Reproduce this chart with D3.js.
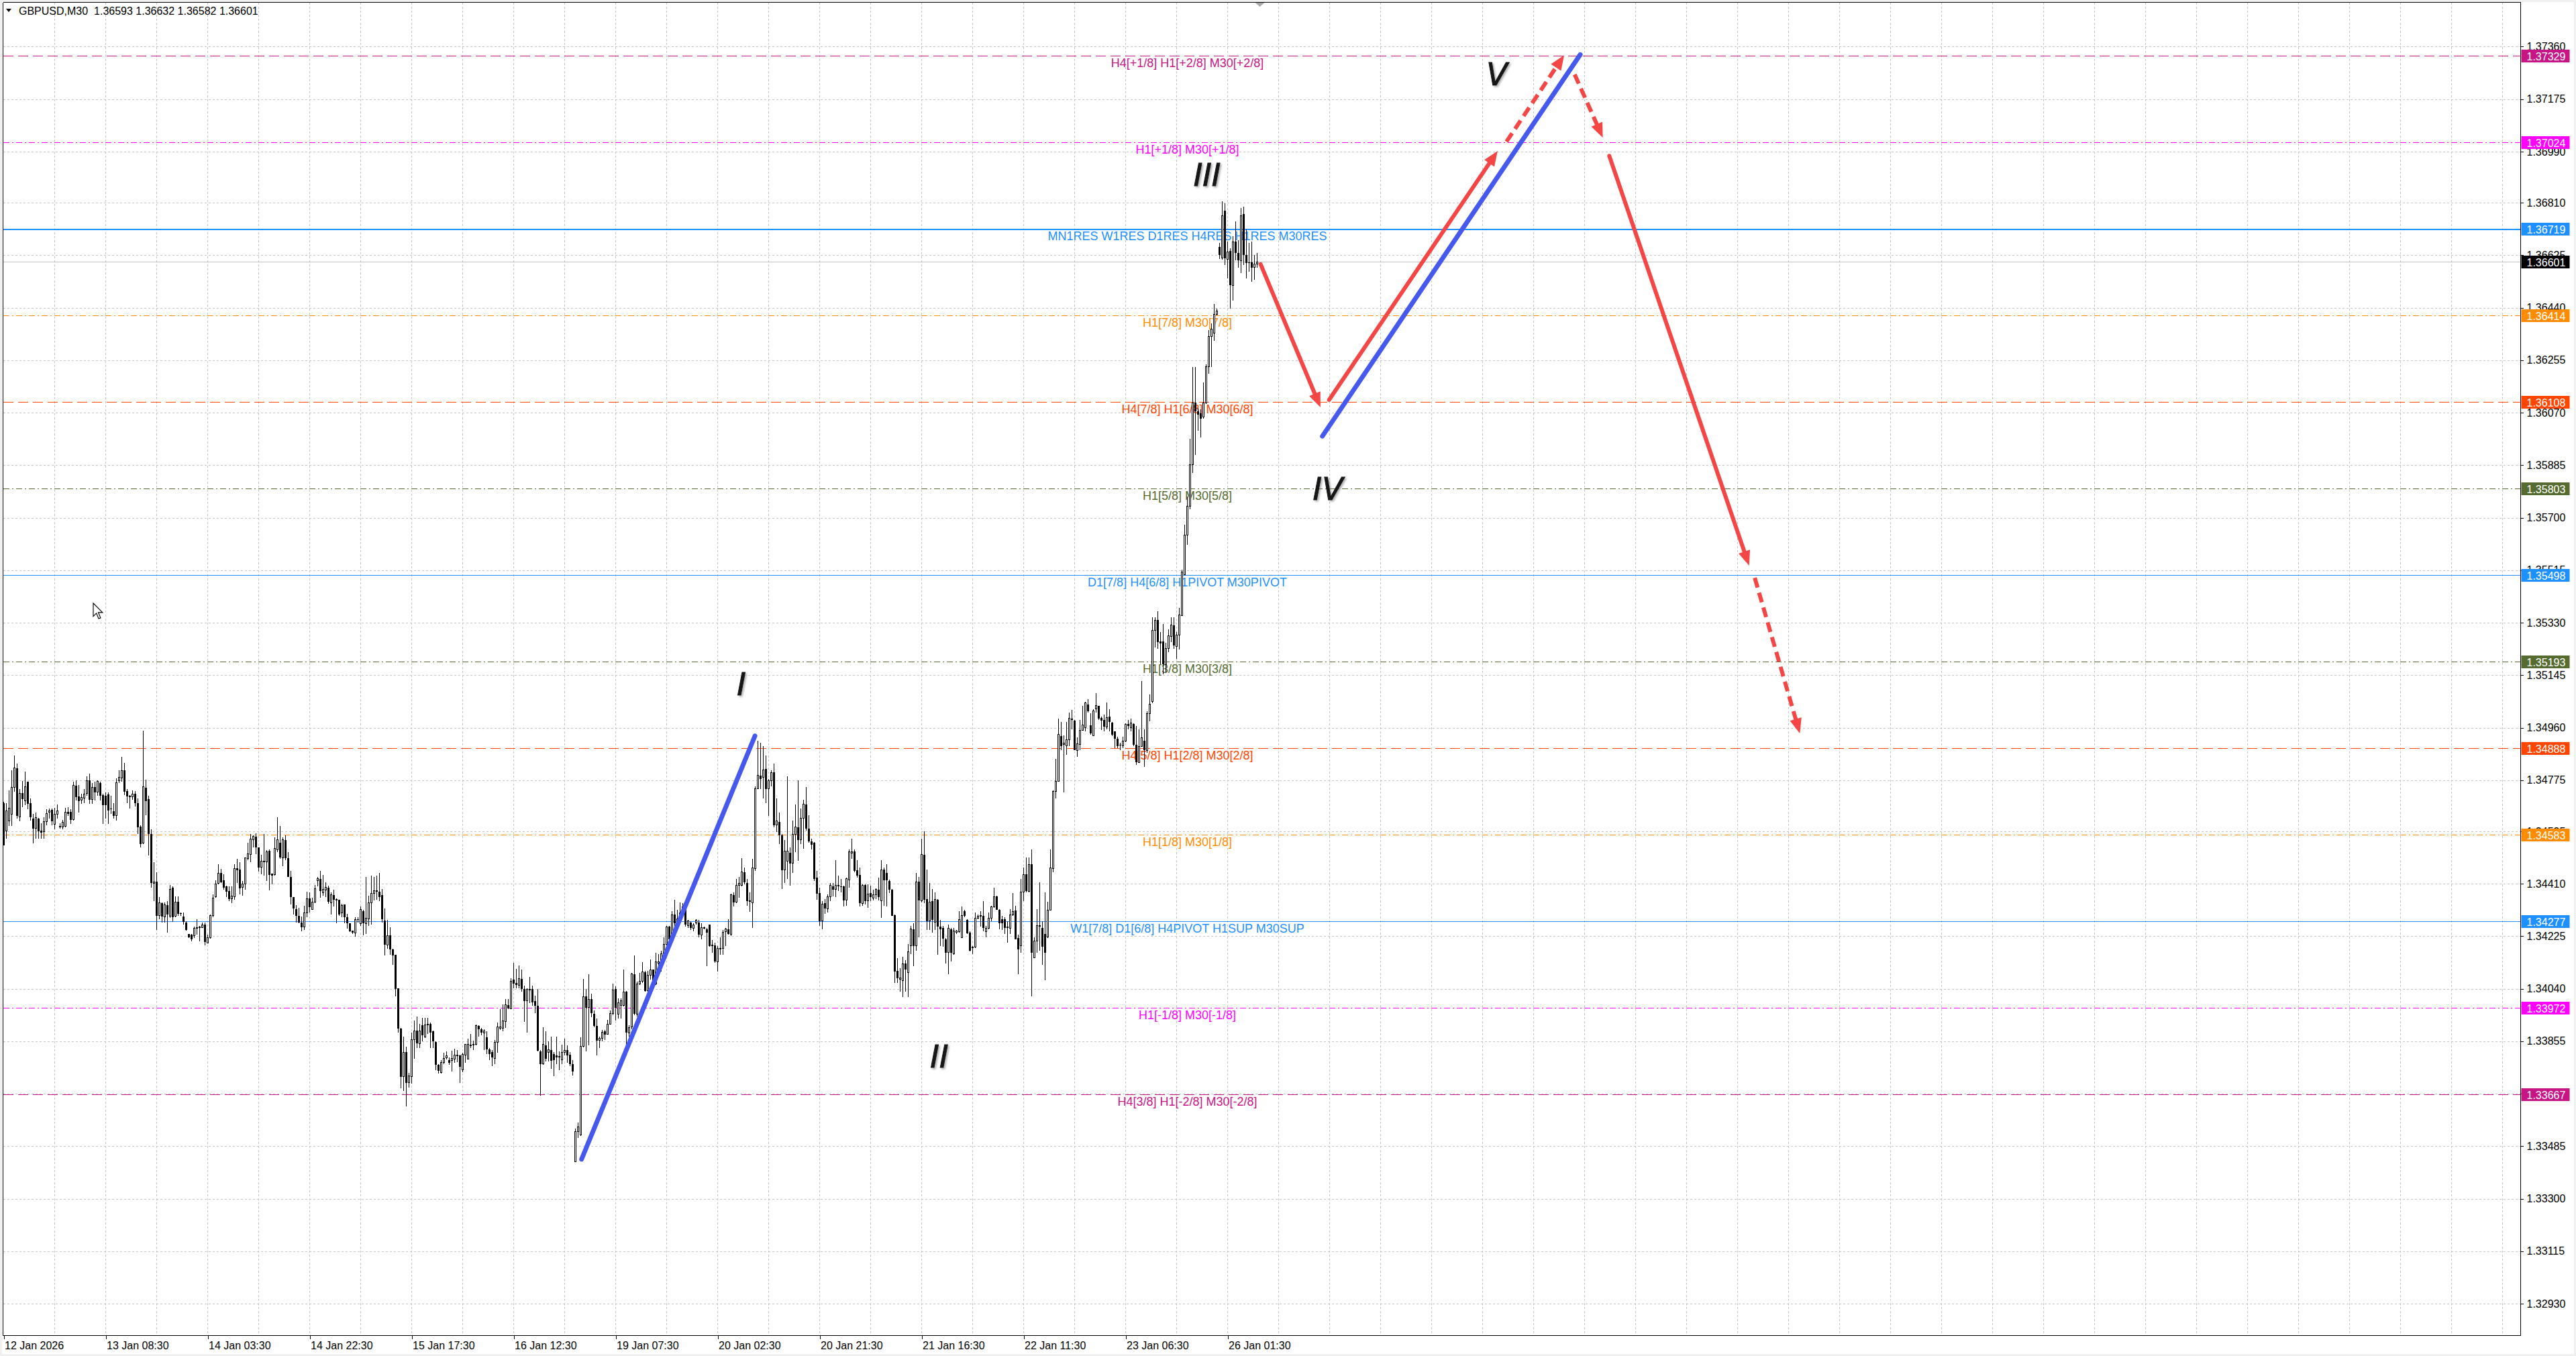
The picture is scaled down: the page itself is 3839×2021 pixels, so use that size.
<!DOCTYPE html>
<html lang="en">
<head>
<meta charset="UTF-8">
<title>GBPUSD,M30</title>
<script src="https://d3js.org/d3.v7.min.js"></script>
<style>
  body { margin: 0; background: #fff; overflow: hidden; }
  svg { display: block; font-family: 'Liberation Sans', Arial, sans-serif; }
  .grid line { stroke: #c4c4c4; stroke-width: 1; stroke-dasharray: 3,3; shape-rendering: crispEdges; }
  .axis text { font-size: 16px; fill: #000; font-family: 'Liberation Sans', Arial, sans-serif; }
  .axis line, .axis path { stroke: #000; shape-rendering: crispEdges; }
  .level-label { font-size: 18px; }
  .wave-label { font-family: 'DejaVu Sans', sans-serif; font-style: italic; font-size: 46px; fill: #151515; }
  .candle line, .candle rect { shape-rendering: crispEdges; }
</style>
</head>
<body>
<svg id="chart" width="3839" height="2021"></svg>
<script>
// ---- data ----
const symbol = "GBPUSD,M30";

const opens = [
1.34695,1.34597,1.34631,1.34656,1.34750,1.34817,1.34646,1.34729,1.34703,1.34769,
1.34695,1.34640,1.34606,1.34639,1.34597,1.34593,1.34630,1.34663,1.34670,1.34620,
1.34654,1.34614,1.34609,1.34613,1.34664,1.34663,1.34636,1.34756,1.34717,1.34705,
1.34711,1.34729,1.34774,1.34706,1.34750,1.34732,1.34766,1.34723,1.34719,1.34724,
1.34674,1.34666,1.34650,1.34774,1.34782,1.34809,1.34736,1.34719,1.34717,1.34728,
1.34695,1.34612,1.34553,1.34749,1.34709,1.34585,1.34412,1.34417,1.34297,1.34342,
1.34293,1.34335,1.34295,1.34397,1.34295,1.34346,1.34307,1.34295,1.34274,1.34232,
1.34230,1.34226,1.34254,1.34256,1.34256,1.34266,1.34200,1.34220,1.34297,1.34363,
1.34412,1.34449,1.34422,1.34400,1.34384,1.34358,1.34364,1.34464,1.34459,1.34397,
1.34410,1.34498,1.34514,1.34566,1.34576,1.34538,1.34468,1.34490,1.34486,1.34525,
1.34445,1.34442,1.34530,1.34555,1.34502,1.34565,1.34500,1.34435,1.34363,1.34321,
1.34297,1.34274,1.34258,1.34308,1.34358,1.34319,1.34345,1.34421,1.34427,1.34379,
1.34388,1.34397,1.34344,1.34371,1.34355,1.34353,1.34307,1.34336,1.34292,1.34270,
1.34244,1.34237,1.34285,1.34270,1.34314,1.34270,1.34287,1.34342,1.34377,1.34384,
1.34381,1.34369,1.34281,1.34195,1.34229,1.34178,1.34160,1.34042,1.33900,1.33731,
1.33817,1.33709,1.33730,1.33860,1.33893,1.33847,1.33911,1.33869,1.33915,1.33915,
1.33889,1.33852,1.33772,1.33744,1.33779,1.33797,1.33788,1.33788,1.33793,1.33806,
1.33804,1.33755,1.33806,1.33793,1.33843,1.33841,1.33843,1.33909,1.33898,1.33885,
1.33869,1.33826,1.33816,1.33794,1.33852,1.33900,1.33900,1.33924,1.33983,1.33970,
1.34071,1.34060,1.34053,1.34075,1.34038,1.33997,1.34036,1.34038,1.33996,1.33979,
1.33819,1.33775,1.33841,1.33816,1.33825,1.33810,1.33806,1.33799,1.33790,1.33816,
1.33823,1.33808,1.33775,1.33431,1.33536,1.33524,1.33838,1.34013,1.33974,1.34003,
1.33952,1.33909,1.33858,1.33865,1.33889,1.33880,1.33915,1.33952,1.34038,1.33950,
1.33981,1.33981,1.34029,1.33885,1.33905,1.34092,1.33951,1.34057,1.34066,1.34099,
1.34033,1.34087,1.34107,1.34057,1.34131,1.34136,1.34163,1.34197,1.34258,1.34219,
1.34301,1.34266,1.34286,1.34305,1.34321,1.34262,1.34274,1.34254,1.34271,1.34274,
1.34230,1.34256,1.34250,1.34266,1.34191,1.34193,1.34136,1.34181,1.34183,1.34242,
1.34250,1.34232,1.34371,1.34345,1.34404,1.34404,1.34451,1.34412,1.34349,1.34342,
1.34464,1.34744,1.34791,1.34786,1.34815,1.34744,1.34774,1.34803,1.34618,1.34628,
1.34581,1.34459,1.34490,1.34520,1.34483,1.34585,1.34610,1.34565,1.34640,1.34690,
1.34605,1.34560,1.34555,1.34431,1.34376,1.34278,1.34341,1.34321,1.34363,1.34402,
1.34390,1.34405,1.34402,1.34402,1.34352,1.34423,1.34518,1.34523,1.34457,1.34442,
1.34341,1.34405,1.34349,1.34376,1.34360,1.34372,1.34388,1.34349,1.34459,1.34447,
1.34420,1.34388,1.34300,1.34104,1.34074,1.34069,1.34128,1.34098,1.34191,1.34250,
1.34191,1.34418,1.34349,1.34512,1.34356,1.34278,1.34349,1.34274,1.34353,1.34258,
1.34254,1.34215,1.34167,1.34250,1.34163,1.34238,1.34242,1.34221,1.34313,1.34283,
1.34238,1.34187,1.34187,1.34289,1.34295,1.34297,1.34242,1.34254,1.34289,1.34329,
1.34366,1.34317,1.34284,1.34285,1.34258,1.34254,1.34301,1.34315,1.34218,1.34191,
1.34380,1.34443,1.34384,1.34478,1.34150,1.34207,1.34261,1.34254,1.34232,1.34222,
1.34318,1.34463,1.34736,1.34772,1.34930,1.34900,1.34896,1.34917,1.34992,1.34985,
1.34880,1.34902,1.34951,1.34959,1.35042,1.34969,1.34931,1.35026,1.35038,1.34995,
1.34987,1.34963,1.34998,1.34977,1.34946,1.34920,1.34900,1.34896,1.34912,1.34972,
1.34959,1.34972,1.34900,1.34838,1.34894,1.34915,1.34880,1.35010,1.35053,1.35302,
1.35339,1.35264,1.35264,1.35183,1.35239,1.35282,1.35321,1.35246,1.35287,1.35355,
1.35500,1.35639,1.35741,1.35886,1.36105,1.36074,1.36068,1.36054,1.36105,1.36232,
1.36338,1.36351,1.36417,1.36653,1.36614,1.36783,1.36611,1.36641,1.36519,1.36673,
1.36634,1.36606,1.36769,1.36626,1.36600,1.36600,1.36582,1.36593];

const highs = [
1.34698,1.34695,1.34739,1.34810,1.34862,1.34833,1.34743,1.34772,1.34806,1.34770,
1.34711,1.34656,1.34660,1.34642,1.34624,1.34644,1.34672,1.34675,1.34675,1.34677,
1.34690,1.34624,1.34634,1.34678,1.34680,1.34672,1.34770,1.34774,1.34758,1.34727,
1.34743,1.34788,1.34798,1.34766,1.34770,1.34774,1.34770,1.34727,1.34731,1.34731,
1.34719,1.34695,1.34782,1.34809,1.34857,1.34836,1.34743,1.34723,1.34740,1.34736,
1.34711,1.34617,1.34949,1.34776,1.34720,1.34601,1.34486,1.34451,1.34364,1.34345,
1.34345,1.34349,1.34405,1.34402,1.34366,1.34366,1.34309,1.34309,1.34278,1.34234,
1.34234,1.34258,1.34284,1.34262,1.34274,1.34274,1.34230,1.34301,1.34372,1.34421,
1.34479,1.34463,1.34443,1.34404,1.34400,1.34400,1.34480,1.34498,1.34486,1.34420,
1.34502,1.34555,1.34585,1.34581,1.34587,1.34538,1.34513,1.34585,1.34528,1.34530,
1.34445,1.34573,1.34644,1.34613,1.34573,1.34581,1.34522,1.34455,1.34364,1.34335,
1.34325,1.34295,1.34333,1.34382,1.34380,1.34360,1.34405,1.34434,1.34455,1.34442,
1.34414,1.34403,1.34379,1.34388,1.34359,1.34353,1.34340,1.34336,1.34303,1.34270,
1.34244,1.34292,1.34292,1.34331,1.34318,1.34435,1.34368,1.34439,1.34435,1.34438,
1.34449,1.34391,1.34322,1.34283,1.34257,1.34182,1.34160,1.34042,1.33902,1.33871,
1.33836,1.33744,1.33885,1.33928,1.33941,1.33915,1.33937,1.33937,1.33937,1.33920,
1.33893,1.33854,1.33775,1.33788,1.33815,1.33819,1.33797,1.33821,1.33828,1.33823,
1.33808,1.33815,1.33845,1.33863,1.33880,1.33858,1.33913,1.33911,1.33902,1.33898,
1.33889,1.33832,1.33823,1.33860,1.33920,1.33968,1.33985,1.34003,1.34003,1.34077,
1.34132,1.34111,1.34121,1.34108,1.34051,1.34042,1.34082,1.34051,1.34016,1.34040,
1.33823,1.33904,1.33889,1.33854,1.33871,1.33816,1.33871,1.33819,1.33843,1.33863,
1.33841,1.33816,1.33788,1.33547,1.33569,1.33869,1.34075,1.34040,1.34090,1.34023,
1.33963,1.33935,1.33871,1.33895,1.33895,1.33930,1.33963,1.34058,1.34048,1.34007,
1.34007,1.34108,1.34033,1.33911,1.34095,1.34158,1.34065,1.34096,1.34134,1.34104,
1.34104,1.34144,1.34108,1.34167,1.34161,1.34175,1.34222,1.34262,1.34262,1.34313,
1.34353,1.34317,1.34345,1.34341,1.34341,1.34282,1.34279,1.34271,1.34286,1.34282,
1.34270,1.34258,1.34254,1.34266,1.34211,1.34203,1.34191,1.34222,1.34246,1.34254,
1.34285,1.34374,1.34380,1.34427,1.34435,1.34500,1.34467,1.34427,1.34380,1.34498,
1.34752,1.34914,1.34908,1.34896,1.34861,1.34778,1.34810,1.34833,1.34711,1.34662,
1.34585,1.34565,1.34788,1.34538,1.34632,1.34689,1.34774,1.34676,1.34705,1.34750,
1.34652,1.34569,1.34557,1.34455,1.34396,1.34349,1.34356,1.34372,1.34412,1.34413,
1.34494,1.34439,1.34427,1.34404,1.34431,1.34530,1.34569,1.34530,1.34492,1.34467,
1.34408,1.34408,1.34408,1.34404,1.34388,1.34394,1.34431,1.34494,1.34467,1.34479,
1.34424,1.34392,1.34301,1.34148,1.34112,1.34152,1.34140,1.34197,1.34262,1.34270,
1.34447,1.34435,1.34569,1.34594,1.34459,1.34412,1.34392,1.34380,1.34356,1.34282,
1.34262,1.34219,1.34266,1.34254,1.34254,1.34248,1.34313,1.34329,1.34317,1.34285,
1.34242,1.34191,1.34309,1.34301,1.34313,1.34348,1.34262,1.34309,1.34333,1.34396,
1.34368,1.34321,1.34297,1.34293,1.34277,1.34321,1.34376,1.34333,1.34230,1.34427,
1.34467,1.34502,1.34502,1.34530,1.34222,1.34321,1.34415,1.34277,1.34380,1.34347,
1.34530,1.34738,1.34850,1.34993,1.34980,1.34933,1.34980,1.35014,1.35022,1.34987,
1.34925,1.34988,1.35038,1.35050,1.35061,1.35010,1.35024,1.35081,1.35038,1.34998,
1.35006,1.35048,1.35024,1.34979,1.34947,1.34928,1.34908,1.34928,1.34975,1.34987,
1.34991,1.34975,1.34967,1.34955,1.35125,1.34955,1.35018,1.35077,1.35349,1.35349,
1.35371,1.35298,1.35325,1.35258,1.35306,1.35349,1.35349,1.35298,1.35382,1.35517,
1.35676,1.35774,1.35979,1.36232,1.36232,1.36086,1.36082,1.36176,1.36240,1.36362,
1.36385,1.36452,1.36437,1.36669,1.36815,1.36807,1.36673,1.36649,1.36693,1.36744,
1.36677,1.36791,1.36795,1.36716,1.36669,1.36673,1.36626,1.36632];

const lows = [
1.34544,1.34569,1.34613,1.34613,1.34735,1.34640,1.34631,1.34680,1.34687,1.34672,
1.34632,1.34553,1.34569,1.34569,1.34569,1.34569,1.34617,1.34640,1.34617,1.34601,
1.34640,1.34603,1.34601,1.34609,1.34648,1.34620,1.34632,1.34703,1.34662,1.34691,
1.34695,1.34719,1.34691,1.34691,1.34703,1.34719,1.34703,1.34620,1.34640,1.34620,
1.34656,1.34640,1.34632,1.34766,1.34770,1.34723,1.34695,1.34676,1.34707,1.34683,
1.34585,1.34538,1.34550,1.34652,1.34510,1.34396,1.34349,1.34248,1.34286,1.34274,
1.34274,1.34237,1.34289,1.34276,1.34293,1.34297,1.34297,1.34266,1.34244,1.34219,
1.34207,1.34219,1.34230,1.34207,1.34254,1.34193,1.34199,1.34216,1.34293,1.34360,
1.34408,1.34412,1.34388,1.34363,1.34349,1.34341,1.34353,1.34412,1.34372,1.34368,
1.34390,1.34494,1.34486,1.34538,1.34514,1.34453,1.34443,1.34439,1.34420,1.34386,
1.34408,1.34439,1.34522,1.34498,1.34471,1.34494,1.34435,1.34337,1.34301,1.34274,
1.34270,1.34242,1.34246,1.34293,1.34309,1.34317,1.34341,1.34400,1.34360,1.34368,
1.34362,1.34340,1.34302,1.34331,1.34270,1.34296,1.34292,1.34270,1.34252,1.34239,
1.34233,1.34224,1.34274,1.34261,1.34229,1.34233,1.34261,1.34266,1.34350,1.34353,
1.34349,1.34274,1.34158,1.34182,1.34160,1.34125,1.34012,1.33885,1.33690,1.33679,
1.33626,1.33692,1.33705,1.33793,1.33832,1.33832,1.33854,1.33867,1.33880,1.33832,
1.33832,1.33753,1.33740,1.33742,1.33775,1.33790,1.33771,1.33749,1.33779,1.33781,
1.33708,1.33746,1.33779,1.33790,1.33832,1.33823,1.33841,1.33871,1.33876,1.33823,
1.33810,1.33788,1.33766,1.33775,1.33815,1.33895,1.33889,1.33902,1.33968,1.33968,
1.34042,1.34042,1.34042,1.34029,1.33924,1.33885,1.33990,1.33981,1.33955,1.33819,
1.33664,1.33773,1.33784,1.33784,1.33758,1.33731,1.33775,1.33753,1.33775,1.33806,
1.33779,1.33766,1.33734,1.33429,1.33515,1.33521,1.33834,1.33819,1.33841,1.33939,
1.33904,1.33806,1.33832,1.33854,1.33860,1.33878,1.33913,1.33948,1.33928,1.33935,
1.33935,1.33977,1.33841,1.33871,1.33898,1.33947,1.33943,1.34053,1.34061,1.34030,
1.34030,1.34073,1.34053,1.34053,1.34096,1.34100,1.34163,1.34192,1.34207,1.34211,
1.34246,1.34250,1.34282,1.34295,1.34258,1.34254,1.34248,1.34242,1.34266,1.34221,
1.34215,1.34250,1.34120,1.34187,1.34167,1.34132,1.34100,1.34159,1.34159,1.34191,
1.34230,1.34226,1.34329,1.34341,1.34360,1.34400,1.34408,1.34333,1.34311,1.34254,
1.34455,1.34743,1.34743,1.34711,1.34695,1.34648,1.34754,1.34610,1.34593,1.34550,
1.34392,1.34412,1.34427,1.34404,1.34447,1.34522,1.34490,1.34550,1.34534,1.34597,
1.34555,1.34530,1.34420,1.34353,1.34262,1.34250,1.34305,1.34309,1.34349,1.34366,
1.34364,1.34384,1.34380,1.34329,1.34333,1.34396,1.34498,1.34451,1.34431,1.34329,
1.34333,1.34337,1.34325,1.34349,1.34352,1.34356,1.34352,1.34289,1.34333,1.34329,
1.34376,1.34297,1.34061,1.34061,1.34030,1.34010,1.34030,1.34011,1.34163,1.34120,
1.34175,1.34222,1.34345,1.34341,1.34246,1.34246,1.34238,1.34246,1.34159,1.34191,
1.34187,1.34128,1.34092,1.34136,1.34159,1.34234,1.34238,1.34218,1.34293,1.34234,
1.34171,1.34163,1.34183,1.34285,1.34258,1.34242,1.34221,1.34250,1.34277,1.34325,
1.34317,1.34250,1.34246,1.34234,1.34203,1.34232,1.34297,1.34214,1.34092,1.34167,
1.34348,1.34380,1.34380,1.34013,1.34150,1.34167,1.34175,1.34124,1.34069,1.34218,
1.34318,1.34451,1.34711,1.34770,1.34880,1.34731,1.34864,1.34896,1.34955,1.34880,
1.34857,1.34880,1.34949,1.34947,1.35014,1.34935,1.34931,1.35014,1.34987,1.34951,
1.34947,1.34955,1.34947,1.34931,1.34888,1.34888,1.34880,1.34888,1.34909,1.34955,
1.34947,1.34896,1.34829,1.34835,1.34892,1.34821,1.34872,1.34982,1.35046,1.35243,
1.35239,1.35183,1.35148,1.35156,1.35227,1.35262,1.35239,1.35203,1.35235,1.35353,
1.35499,1.35605,1.35730,1.35857,1.35920,1.36007,1.35983,1.36050,1.36102,1.36208,
1.36232,1.36322,1.36413,1.36612,1.36610,1.36590,1.36543,1.36437,1.36464,1.36606,
1.36582,1.36563,1.36590,1.36543,1.36567,1.36531,1.36539,1.36582];

const closes = [
1.34546,1.34668,1.34677,1.34750,1.34819,1.34648,1.34729,1.34709,1.34753,1.34691,
1.34644,1.34605,1.34642,1.34595,1.34591,1.34630,1.34658,1.34667,1.34631,1.34656,
1.34668,1.34609,1.34626,1.34661,1.34657,1.34635,1.34756,1.34715,1.34702,1.34713,
1.34727,1.34774,1.34706,1.34750,1.34731,1.34770,1.34719,1.34687,1.34686,1.34669,
1.34672,1.34648,1.34767,1.34784,1.34809,1.34735,1.34717,1.34715,1.34725,1.34695,
1.34609,1.34550,1.34752,1.34702,1.34585,1.34412,1.34417,1.34296,1.34342,1.34295,
1.34335,1.34301,1.34391,1.34293,1.34346,1.34303,1.34303,1.34276,1.34246,1.34222,
1.34215,1.34252,1.34256,1.34258,1.34266,1.34204,1.34220,1.34297,1.34360,1.34410,
1.34447,1.34416,1.34397,1.34383,1.34356,1.34366,1.34464,1.34457,1.34394,1.34408,
1.34501,1.34516,1.34567,1.34576,1.34538,1.34468,1.34490,1.34486,1.34523,1.34442,
1.34439,1.34535,1.34565,1.34502,1.34565,1.34501,1.34435,1.34363,1.34323,1.34297,
1.34274,1.34256,1.34308,1.34358,1.34327,1.34345,1.34392,1.34429,1.34384,1.34390,
1.34397,1.34347,1.34371,1.34353,1.34352,1.34302,1.34333,1.34292,1.34270,1.34242,
1.34237,1.34283,1.34282,1.34320,1.34270,1.34289,1.34344,1.34377,1.34385,1.34386,
1.34364,1.34286,1.34195,1.34226,1.34178,1.34158,1.34038,1.33900,1.33729,1.33815,
1.33709,1.33733,1.33860,1.33891,1.33848,1.33892,1.33876,1.33913,1.33911,1.33885,
1.33854,1.33772,1.33751,1.33779,1.33794,1.33803,1.33778,1.33795,1.33806,1.33806,
1.33764,1.33808,1.33843,1.33843,1.33839,1.33844,1.33910,1.33898,1.33886,1.33892,
1.33826,1.33810,1.33797,1.33851,1.33906,1.33906,1.33926,1.33983,1.33970,1.34067,
1.34057,1.34053,1.34075,1.34040,1.33997,1.34038,1.34038,1.33992,1.33979,1.33822,
1.33775,1.33845,1.33793,1.33825,1.33787,1.33788,1.33799,1.33801,1.33815,1.33823,
1.33804,1.33775,1.33749,1.33536,1.33553,1.33836,1.34013,1.33974,1.34003,1.33955,
1.33909,1.33858,1.33865,1.33887,1.33878,1.33915,1.33952,1.34035,1.33972,1.33991,
1.33997,1.34028,1.33885,1.33902,1.34092,1.33951,1.34057,1.34066,1.34099,1.34032,
1.34087,1.34107,1.34057,1.34134,1.34136,1.34163,1.34197,1.34258,1.34215,1.34301,
1.34270,1.34286,1.34308,1.34329,1.34266,1.34278,1.34254,1.34264,1.34282,1.34230,
1.34256,1.34253,1.34238,1.34191,1.34195,1.34137,1.34183,1.34183,1.34240,1.34250,
1.34232,1.34371,1.34345,1.34404,1.34412,1.34451,1.34416,1.34349,1.34349,1.34465,
1.34744,1.34791,1.34778,1.34812,1.34744,1.34774,1.34802,1.34617,1.34631,1.34581,
1.34457,1.34526,1.34526,1.34481,1.34585,1.34610,1.34565,1.34640,1.34691,1.34605,
1.34560,1.34547,1.34426,1.34374,1.34278,1.34338,1.34323,1.34364,1.34405,1.34390,
1.34404,1.34400,1.34400,1.34352,1.34429,1.34522,1.34523,1.34455,1.34439,1.34341,
1.34405,1.34349,1.34374,1.34363,1.34372,1.34390,1.34364,1.34459,1.34423,1.34423,
1.34388,1.34297,1.34100,1.34077,1.34079,1.34128,1.34108,1.34171,1.34250,1.34191,
1.34416,1.34350,1.34512,1.34353,1.34278,1.34345,1.34282,1.34355,1.34258,1.34250,
1.34216,1.34166,1.34254,1.34166,1.34244,1.34244,1.34283,1.34299,1.34297,1.34236,
1.34173,1.34183,1.34289,1.34296,1.34299,1.34254,1.34254,1.34289,1.34329,1.34364,
1.34318,1.34270,1.34270,1.34255,1.34254,1.34301,1.34311,1.34214,1.34179,1.34380,
1.34443,1.34384,1.34478,1.34166,1.34209,1.34262,1.34263,1.34187,1.34166,1.34318,
1.34467,1.34736,1.34772,1.34937,1.34896,1.34906,1.34917,1.34992,1.34987,1.34880,
1.34904,1.34951,1.34969,1.35048,1.35017,1.34939,1.35018,1.35038,1.34993,1.34985,
1.34963,1.34996,1.34979,1.34935,1.34920,1.34896,1.34898,1.34912,1.34972,1.34967,
1.34977,1.34900,1.34838,1.34894,1.34925,1.34880,1.35010,1.35043,1.35302,1.35339,
1.35262,1.35256,1.35183,1.35239,1.35284,1.35321,1.35250,1.35287,1.35357,1.35508,
1.35639,1.35741,1.35886,1.36105,1.36074,1.36062,1.36050,1.36105,1.36232,1.36338,
1.36364,1.36417,1.36429,1.36626,1.36764,1.36614,1.36637,1.36519,1.36673,1.36634,
1.36606,1.36764,1.36626,1.36598,1.36599,1.36580,1.36594,1.36601];

// price axis ticks (as printed by the terminal)
const tickPrices = [1.37360,1.37175,1.36990,1.36810,1.36625,1.36440,1.36255,1.36070,1.35885,
  1.35700,1.35515,1.35330,1.35145,1.34960,1.34775,1.34595,1.34410,1.34225,1.34040,1.33855,
  1.33670,1.33485,1.33300,1.33115,1.32930];

// time axis labels and the bar they sit on
const timeLabels = ["12 Jan 2026","13 Jan 08:30","14 Jan 03:30","14 Jan 22:30","15 Jan 17:30",
  "16 Jan 12:30","19 Jan 07:30","20 Jan 02:30","20 Jan 21:30","21 Jan 16:30","22 Jan 11:30",
  "23 Jan 06:30","26 Jan 01:30"];
const timeLabelBars = [0,38,76,114,152,190,228,266,304,342,380,418,456];

// Murrey-style level lines
const levelPrices = [1.37329,1.37024,1.36719,1.36414,1.36108,1.35803,1.35498,1.35193,1.34888,1.34583,1.34277,1.33972,1.33667];
const levelTexts = [
  "H4[+1/8] H1[+2/8] M30[+2/8]",
  "H1[+1/8] M30[+1/8]",
  "MN1RES W1RES D1RES H4RES H1RES M30RES",
  "H1[7/8] M30[7/8]",
  "H4[7/8] H1[6/8] M30[6/8]",
  "H1[5/8] M30[5/8]",
  "D1[7/8] H4[6/8] H1PIVOT M30PIVOT",
  "H1[3/8] M30[3/8]",
  "H4[5/8] H1[2/8] M30[2/8]",
  "H1[1/8] M30[1/8]",
  "W1[7/8] D1[6/8] H4PIVOT H1SUP M30SUP",
  "H1[-1/8] M30[-1/8]",
  "H4[3/8] H1[-2/8] M30[-2/8]"];
const levelKinds = ["outer","inner","res","orange","red","olive","pivot","olive","red","orange","pivot","inner","outer"];
const levelLabelBar = 441;

// hand-drawn wave projection (bar index, price)
const waveLineBars   = [[215.3, 279.9], [491.3, 587.4]];
const waveLinePrices = [[1.33439, 1.34931], [1.35987, 1.37332]];
const arrowBars   = [[468.3,490.6],[493.8,556.6],[559.9,581.4],[585.3,595.8],[598.2,650.3],[652.4,669.2]];
const arrowPrices = [[1.36593,1.36089],[1.36115,1.36992],[1.37025,1.37330],[1.37262,1.37039],[1.36975,1.35531],[1.35488,1.34940]];
const waveNames  = ["I","II","III","IV","V"];
const waveBars   = [274.9, 348.6, 448.4, 493.4, 556.4];
const wavePrices = [1.35113, 1.33801, 1.36909, 1.35801, 1.37264];

// ---- styles ----
const levelStyle = {
  outer:  { color: "#c71585", dash: "15,7", width: 1 },
  inner:  { color: "#ff00ff", dash: "9,4,2,4", width: 1 },
  res:    { color: "#1e90ff", dash: null, width: 2 },
  pivot:  { color: "#1e90ff", dash: null, width: 1 },
  orange: { color: "#ff8c00", dash: "9,4,2,4", width: 1 },
  red:    { color: "#ff4500", dash: "15,7", width: 1 },
  olive:  { color: "#556b2f", dash: "9,4,2,4", width: 1 }
};
const arrowDashed = [false, false, true, true, false, true];
const arrowColor = "#f54646";
const waveLineColor = "#4659ef";

// ---- layout ----
const W = 3839, H = 2021;
const plot = { left: 4.5, top: 3.5, right: 3756.5, bottom: 1990.5 };
const svg = d3.select("#chart");

const x = d3.scaleLinear().domain([0, 937.75]).range([5.5, 3756.5]);
const y = d3.scaleLinear().domain([1.32819, 1.37516]).range([1990, 3.5]);

// window frame
svg.append("rect").attr("width", W).attr("height", H).attr("fill", "#f0f0f0");
svg.append("rect").attr("x", 3).attr("y", 3).attr("width", W - 6).attr("height", H - 6).attr("fill", "#fff");

svg.append("defs").append("clipPath").attr("id", "plotClip")
  .append("rect").attr("x", plot.left).attr("y", plot.top)
  .attr("width", plot.right - plot.left).attr("height", plot.bottom - plot.top);

const shadow = svg.select("defs").append("filter").attr("id", "shadow")
  .attr("x", "-20%").attr("y", "-20%").attr("width", "160%").attr("height", "160%");
shadow.append("feDropShadow").attr("dx", 2).attr("dy", 2).attr("stdDeviation", 1.6)
  .attr("flood-color", "#777").attr("flood-opacity", 0.6);

const g = svg.append("g").attr("clip-path", "url(#plotClip)");

// grid
const grid = g.append("g").attr("class", "grid");
grid.selectAll("line.h").data(tickPrices).enter().append("line")
  .attr("class", "h")
  .attr("x1", plot.left).attr("x2", plot.right)
  .attr("y1", d => Math.round(y(d)) + 0.5).attr("y2", d => Math.round(y(d)) + 0.5);
grid.selectAll("line.v").data(d3.range(19, 938, 19)).enter().append("line")
  .attr("class", "v")
  .attr("x1", d => x(d)).attr("x2", d => x(d))
  .attr("y1", plot.top).attr("y2", plot.bottom);

// level lines + labels
const levels = levelPrices.map((p, i) => ({ p, text: levelTexts[i], st: levelStyle[levelKinds[i]] }));
g.selectAll("line.level").data(levels).enter().append("line")
  .attr("class", "level")
  .attr("x1", plot.left).attr("x2", plot.right)
  .attr("y1", d => Math.round(y(d.p)) + 0.5).attr("y2", d => Math.round(y(d.p)) + 0.5)
  .attr("stroke", d => d.st.color)
  .attr("stroke-width", d => d.st.width)
  .attr("stroke-dasharray", d => d.st.dash)
  .style("shape-rendering", "crispEdges");
g.selectAll("text.level-label").data(levels).enter().append("text")
  .attr("class", "level-label")
  .attr("x", x(levelLabelBar))
  .attr("y", d => y(d.p) + 17)
  .attr("text-anchor", "middle")
  .attr("fill", d => d.st.color)
  .text(d => d.text);

// current price line
const lastIdx = closes.length - 1;
g.append("line")
  .attr("x1", plot.left).attr("x2", plot.right)
  .attr("y1", Math.round(y(closes[lastIdx])) + 0.5).attr("y2", Math.round(y(closes[lastIdx])) + 0.5)
  .attr("stroke", "#c0c0c0").attr("stroke-width", 1)
  .style("shape-rendering", "crispEdges");

// candles
const bars = d3.range(closes.length).map(i => ({ i, o: opens[i], h: highs[i], l: lows[i], c: closes[i] }));
const candle = g.append("g").attr("class", "candle");
candle.selectAll("line").data(bars).enter().append("line")
  .attr("x1", d => x(d.i)).attr("x2", d => x(d.i))
  .attr("y1", d => y(d.h)).attr("y2", d => y(d.l))
  .attr("stroke", "#000").attr("stroke-width", 1);
candle.selectAll("rect").data(bars).enter().append("rect")
  .attr("x", d => d.c >= d.o ? x(d.i) - 1 : x(d.i) - 1.5)
  .attr("width", d => d.c >= d.o ? 2 : 3)
  .attr("y", d => y(Math.max(d.o, d.c)))
  .attr("height", d => Math.max(1, Math.abs(y(d.o) - y(d.c))))
  .attr("fill", d => d.c >= d.o ? "#fff" : "#000")
  .attr("stroke", d => d.c >= d.o ? "#000" : "none")
  .attr("stroke-width", 1);

// wave drawings
const drawing = g.append("g");
waveLineBars.forEach((b, k) => {
  drawing.append("line")
    .attr("x1", x(b[0])).attr("y1", y(waveLinePrices[k][0]))
    .attr("x2", x(b[1])).attr("y2", y(waveLinePrices[k][1]))
    .attr("stroke", waveLineColor).attr("stroke-width", 7).attr("stroke-linecap", "round");
});
arrowBars.forEach((b, k) => {
  const x0 = x(b[0]), y0 = y(arrowPrices[k][0]);
  const x1 = x(b[1]), y1 = y(arrowPrices[k][1]);
  const len = Math.hypot(x1 - x0, y1 - y0);
  const ux = (x1 - x0) / len, uy = (y1 - y0) / len;
  const head = 22, half = 9;
  const bx = x1 - ux * head, by = y1 - uy * head;
  drawing.append("line")
    .attr("x1", x0).attr("y1", y0)
    .attr("x2", bx + ux * 3).attr("y2", by + uy * 3)
    .attr("stroke", arrowColor).attr("stroke-width", 6)
    .attr("stroke-linecap", arrowDashed[k] ? "butt" : "round")
    .attr("stroke-dasharray", arrowDashed[k] ? "15,8" : null);
  drawing.append("path")
    .attr("d", `M${x1},${y1}L${bx - uy * half},${by + ux * half}L${bx + uy * half},${by - ux * half}Z`)
    .attr("fill", arrowColor);
});

// wave numerals
drawing.selectAll("text.wave-label").data(waveNames).enter().append("text")
  .attr("class", "wave-label")
  .attr("x", (d, i) => x(waveBars[i]))
  .attr("y", (d, i) => y(wavePrices[i]) + 16.5)
  .attr("text-anchor", "middle")
  .attr("stroke", "#151515").attr("stroke-width", 1)
  .attr("filter", "url(#shadow)")
  .text(d => d);

// chart shift marker at the top
svg.append("path")
  .attr("d", `M${x(lastIdx) - 3},4L${x(lastIdx) + 11},4L${x(lastIdx) + 4},10Z`)
  .attr("fill", "#a8a8a8");

// mouse pointer
svg.append("path")
  .attr("transform", "translate(139,899) scale(1.15)")
  .attr("d", "M0,0L0,17L4,13L7,20L9.5,19L6.5,12L12,12Z")
  .attr("fill", "#fff").attr("stroke", "#000").attr("stroke-width", 1);

// frame lines
svg.append("line").attr("x1", plot.left).attr("x2", plot.left).attr("y1", plot.top).attr("y2", plot.bottom)
  .attr("stroke", "#000").style("shape-rendering", "crispEdges");
svg.append("line").attr("x1", plot.left).attr("x2", plot.right).attr("y1", plot.top).attr("y2", plot.top)
  .attr("stroke", "#000").style("shape-rendering", "crispEdges");

// axes
const yAxis = svg.append("g").attr("class", "axis")
  .attr("transform", `translate(${plot.right},0)`)
  .call(d3.axisRight(y).tickValues(tickPrices).tickFormat(d3.format(".5f")).tickSize(4).tickPadding(5));
yAxis.select(".domain").attr("d", `M0,${plot.top}V${plot.bottom}`);

const xAxis = svg.append("g").attr("class", "axis")
  .attr("transform", `translate(0,${plot.bottom})`)
  .call(d3.axisBottom(x).tickValues(timeLabelBars).tickFormat((d, i) => timeLabels[i]).tickSize(5).tickPadding(4));
xAxis.select(".domain").attr("d", `M${plot.left},0H${plot.right}`);
xAxis.selectAll(".tick text").attr("text-anchor", "start").attr("dx", 1);

// price tags on the right scale
const tags = levels.map(d => ({ p: d.p, color: d.st.color }))
  .concat([{ p: closes[lastIdx], color: "#000" }]);
const tag = svg.append("g").selectAll("g").data(tags).enter().append("g")
  .attr("transform", d => `translate(${plot.right + 1},${Math.round(y(d.p))})`);
tag.append("rect").attr("x", 0).attr("y", -9).attr("width", 72).attr("height", 19)
  .attr("fill", d => d.color);
tag.append("text").attr("x", 8).attr("y", 1).attr("dy", "0.35em")
  .attr("fill", "#fff").style("font-size", "16px")
  .text(d => d3.format(".5f")(d.p));

// header
svg.append("path").attr("d", "M9,13L17,13L13,18Z").attr("fill", "#000");
svg.append("text")
  .attr("x", 28).attr("y", 22)
  .style("font-size", "16px").style("white-space", "pre").attr("fill", "#000")
  .text(`${symbol}  ${d3.format(".5f")(opens[lastIdx])} ${d3.format(".5f")(highs[lastIdx])} ${d3.format(".5f")(lows[lastIdx])} ${d3.format(".5f")(closes[lastIdx])}`);
</script>
</body>
</html>
